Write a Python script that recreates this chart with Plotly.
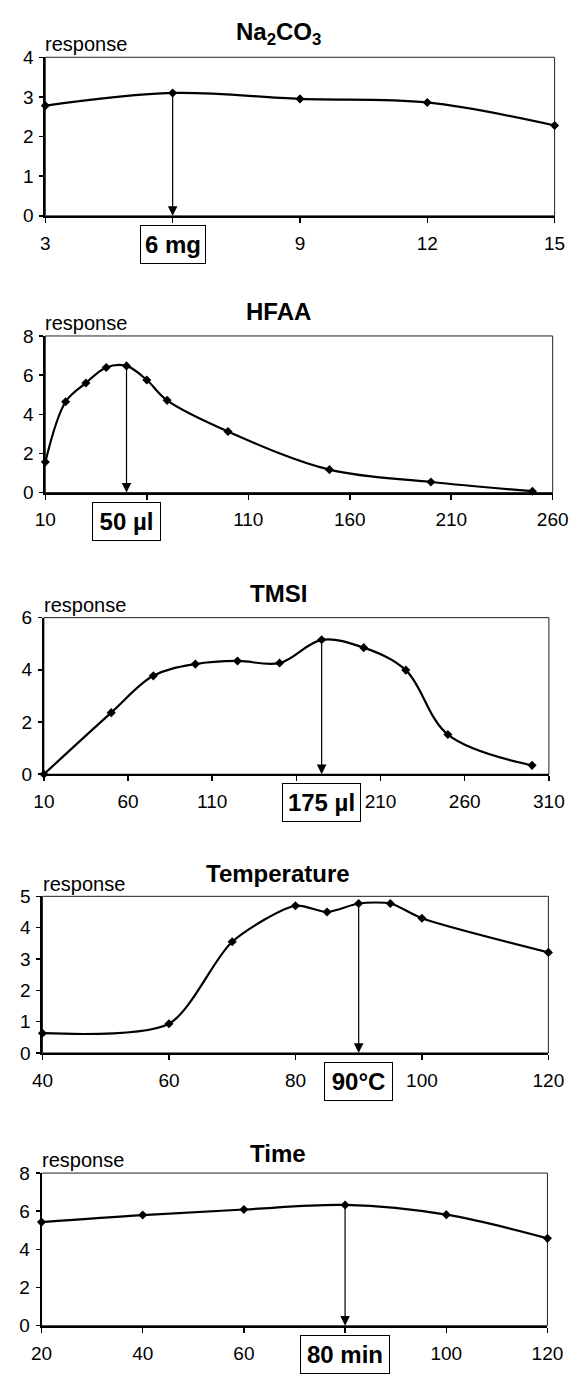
import plotly.graph_objects as go

# ---------------- data ----------------
na_x = [3, 6, 9, 12, 15]
na_y = [2.78, 3.10, 2.95, 2.86, 2.28]

hfaa_x = [10, 20, 30, 40, 50, 60, 70, 100, 150, 200, 250]
hfaa_y = [1.56, 4.64, 5.60, 6.39, 6.47, 5.75, 4.71, 3.12, 1.17, 0.54, 0.07]

tmsi_x = [10, 50, 75, 100, 125, 150, 175, 200, 225, 250, 300]
tmsi_y = [0.0, 2.36, 3.77, 4.22, 4.34, 4.26, 5.15, 4.85, 3.99, 1.52, 0.34]

temp_x = [40, 60, 70, 80, 85, 90, 95, 100, 120]
temp_y = [0.63, 0.93, 3.55, 4.70, 4.50, 4.77, 4.77, 4.30, 3.21]

time_x = [20, 40, 60, 80, 100, 120]
time_y = [5.43, 5.80, 6.09, 6.33, 5.82, 4.58]

titles = ["Na<sub>2</sub>CO<sub>3</sub>", "HFAA", "TMSI", "Temperature", "Time"]
optimum_x = [6, 50, 175, 90, 80]
optimum_labels = ["6 mg", "50 µl", "175 µl", "90°C", "80 min"]
x_ranges = [(3, 15), (10, 260), (10, 310), (40, 120), (20, 120)]
x_dticks = [3, 50, 50, 20, 20]
y_max = [4, 8, 6, 5, 8]
y_dticks = [1, 2, 2, 1, 2]
response_label = "response"

series = [(na_x, na_y), (hfaa_x, hfaa_y), (tmsi_x, tmsi_y), (temp_x, temp_y), (time_x, time_y)]

# ---------------- layout geometry (pixels) ----------------
W, H = 583, 1383
boxes = [  # x0, x1, ytop, ybottom
    (36, 570, 48, 209),
    (36, 568, 331, 490),
    (34.5, 564, 617, 776),
    (33, 563.5, 900, 1059),
    (32, 562.5, 1181, 1336),
]
title_cy = [23.5, 306.5, 592.5, 876.5, 1161]
title_cx = 280
label_box_w = [66, 69, 79, 69, 90]
smooth = [1.0, 1.0, 1.0, 0.75, 1.0]

FONT = "Liberation Sans, Arial, sans-serif"

fig = go.Figure()
annotations = []
shapes = []

for i, ((xs, ys), (x0, x1, yt, yb)) in enumerate(zip(series, boxes)):
    n = i + 1
    xa = "x" if n == 1 else f"x{n}"
    ya = "y" if n == 1 else f"y{n}"
    xkey = "xaxis" if n == 1 else f"xaxis{n}"
    ykey = "yaxis" if n == 1 else f"yaxis{n}"

    fig.add_trace(go.Scatter(
        x=xs, y=ys, mode="lines+markers", xaxis=xa, yaxis=ya,
        line=dict(color="black", width=2.2, shape="spline", smoothing=smooth[i]),
        marker=dict(symbol="diamond", size=7, color="black"),
        showlegend=False, hoverinfo="skip", cliponaxis=False,
    ))

    lo, hi = x_ranges[i]
    tv = list(range(lo, hi + 1, x_dticks[i]))
    ox = optimum_x[i]
    # hide tick labels that fall under the boxed optimum label
    px_per = (x1 - x0) / (hi - lo)
    tt = [("" if abs((v - ox) * px_per) < label_box_w[i] / 2 + 4 else str(v)) for v in tv]

    fig.update_layout(**{
        xkey: dict(
            domain=[x0 / W, x1 / W], anchor=ya,
            range=[lo, hi], tickmode="array", tickvals=tv, ticktext=tt,
            showline=True, linecolor="black", linewidth=2,
            ticks="outside", ticklen=5, tickwidth=1.5, tickcolor="black",
            showgrid=False, zeroline=False,
            tickfont=dict(family=FONT, size=19, color="black"),
            ticklabelstandoff=4,
        ),
        ykey: dict(
            domain=[1 - yb / H, 1 - yt / H], anchor=xa,
            range=[0, y_max[i]], tick0=0, dtick=y_dticks[i],
            showline=True, linecolor="black", linewidth=2,
            ticks="outside", ticklen=4, tickwidth=1.5, tickcolor="black",
            showgrid=False, zeroline=False,
            tickfont=dict(family=FONT, size=19, color="black"),
            ticklabelstandoff=2,
        ),
    })

    # plot-area frame (thin top/right border)
    shapes.append(dict(type="rect", xref=f"{xa} domain", yref=f"{ya} domain",
                       x0=0, x1=1, y0=0, y1=1,
                       line=dict(color="#222", width=1), layer="below"))

    # title
    annotations.append(dict(text=f"<b>{titles[i]}</b>", xref="paper", yref="paper",
                            x=title_cx / W, y=1 - title_cy[i] / H,
                            xanchor="center", yanchor="middle", showarrow=False,
                            font=dict(family=FONT, size=24, color="black")))
    # "response" label
    annotations.append(dict(text=response_label, xref="paper", yref="paper",
                            x=(x0 - 2) / W, y=1 - (yt - 13) / H,
                            xanchor="left", yanchor="middle", showarrow=False,
                            font=dict(family=FONT, size=20, color="black")))

    # arrow from optimum point down to the x axis
    oy = ys[xs.index(ox)]
    annotations.append(dict(text="", x=ox, y=0, ax=ox, ay=oy,
                            xref=xa, yref=ya, axref=xa, ayref=ya,
                            showarrow=True, arrowhead=2, arrowsize=1.6,
                            arrowwidth=1.2, arrowcolor="black", standoff=0))
    # boxed optimum label
    annotations.append(dict(text=f"<b>{optimum_labels[i]}</b>", x=ox, xref=xa,
                            y=0, yref=f"{ya} domain", yanchor="top", xanchor="center",
                            yshift=-9, showarrow=False,
                            width=label_box_w[i] - 6, height=33,
                            bgcolor="white", bordercolor="black", borderwidth=1,
                            borderpad=2,
                            font=dict(family=FONT, size=24, color="black")))

fig.update_layout(
    width=W, height=H,
    margin=dict(l=0, r=0, t=0, b=0),
    paper_bgcolor="white", plot_bgcolor="white",
    annotations=annotations, shapes=shapes,
    showlegend=False,
)

fig.write_html(
    "out.html",
    config={"displayModeBar": False, "staticPlot": True},
    post_script="document.body.style.margin='0';document.body.style.padding='0';"
                "document.documentElement.style.overflow='hidden';",
)
